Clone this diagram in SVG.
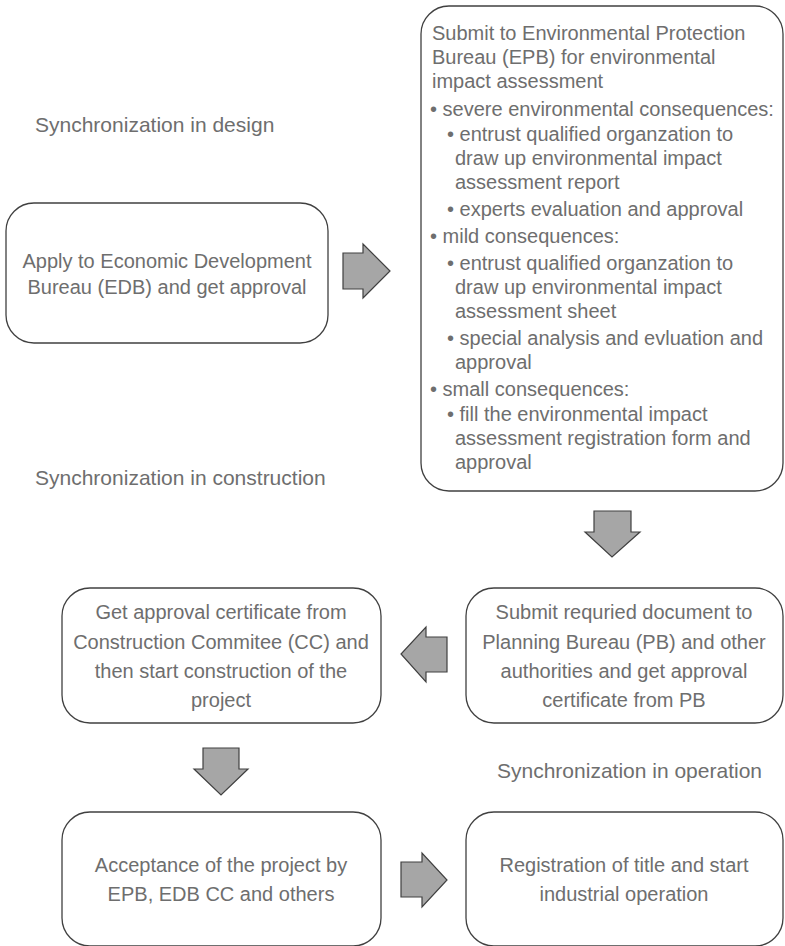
<svg xmlns="http://www.w3.org/2000/svg" width="785" height="946" viewBox="0 0 785 946">
<style>
.box{fill:#fff;stroke:#404040;stroke-width:1.3}
.arr{fill:#a6a6a6;stroke:#404040;stroke-width:1.2;stroke-linejoin:miter}
text{font-family:"Liberation Sans",Arial,sans-serif;font-size:20px;fill:#6e6e6e}
.lbl{font-size:21px}
.c{text-anchor:middle}
</style>
<rect width="785" height="946" fill="#fff"/>
<g id="label-design"><text class="lbl" x="35" y="132">Synchronization in design</text></g>
<g id="label-construction"><text class="lbl" x="35" y="485">Synchronization in construction</text></g>
<g id="label-operation"><text class="lbl" x="497" y="778">Synchronization in operation</text></g>

<g id="node-edb">
<rect class="box" x="6" y="203" width="322" height="140" rx="28"/>
<text class="c" x="167" y="268">Apply to Economic Development</text>
<text class="c" x="167" y="294">Bureau (EDB) and get approval</text>
</g>

<g id="node-epb">
<rect class="box" x="421" y="6" width="362" height="485" rx="28"/>
<text x="432" y="40">Submit to Environmental Protection</text>
<text x="432" y="64">Bureau (EPB) for environmental</text>
<text x="432" y="88">impact assessment</text>
<text x="430" y="116">• severe environmental consequences:</text>
<text x="447" y="141">• entrust qualified organzation to</text>
<text x="455" y="165">draw up environmental impact</text>
<text x="455" y="189">assessment report</text>
<text x="447" y="216">• experts evaluation and approval</text>
<text x="430" y="243">• mild consequences:</text>
<text x="447" y="270">• entrust qualified organzation to</text>
<text x="455" y="294">draw up environmental impact</text>
<text x="455" y="318">assessment sheet</text>
<text x="447" y="345">• special analysis and evluation and</text>
<text x="455" y="369">approval</text>
<text x="430" y="396">• small consequences:</text>
<text x="447" y="421">• fill the environmental impact</text>
<text x="455" y="445">assessment registration form and</text>
<text x="455" y="469">approval</text>
</g>

<g id="node-pb">
<rect class="box" x="466" y="588" width="317" height="135" rx="28"/>
<text class="c" x="624" y="619">Submit requried document to</text>
<text class="c" x="624" y="649">Planning Bureau (PB) and other</text>
<text class="c" x="624" y="678">authorities and get approval</text>
<text class="c" x="624" y="707">certificate from PB</text>
</g>

<g id="node-cc">
<rect class="box" x="62" y="588" width="319" height="135" rx="28"/>
<text class="c" x="221" y="619">Get approval certificate from</text>
<text class="c" x="221" y="649">Construction Commitee (CC) and</text>
<text class="c" x="221" y="678">then start construction of the</text>
<text class="c" x="221" y="707">project</text>
</g>

<g id="node-acceptance">
<rect class="box" x="62" y="812" width="319" height="134" rx="28"/>
<text class="c" x="221" y="872">Acceptance of the project by</text>
<text class="c" x="221" y="901">EPB, EDB CC and others</text>
</g>

<g id="node-registration">
<rect class="box" x="466" y="812" width="317" height="134" rx="28"/>
<text class="c" x="624" y="872">Registration of title and start</text>
<text class="c" x="624" y="901">industrial operation</text>
</g>

<g id="connectors">
<polygon class="arr" points="343,253 363,253 363,244 390,271 363,298 363,289 343,289"/>
<polygon class="arr" points="594,511 631,511 631,532 640,532 612,557 585,532 594,532"/>
<polygon class="arr" points="447,637 426,637 426,627 401,654 426,682 426,672 447,672"/>
<polygon class="arr" points="203,748 239,748 239,769 248,769 221,795 194,769 203,769"/>
<polygon class="arr" points="401,862 422,862 422,853 447,880 422,907 422,897 401,897"/>
</g>
</svg>
